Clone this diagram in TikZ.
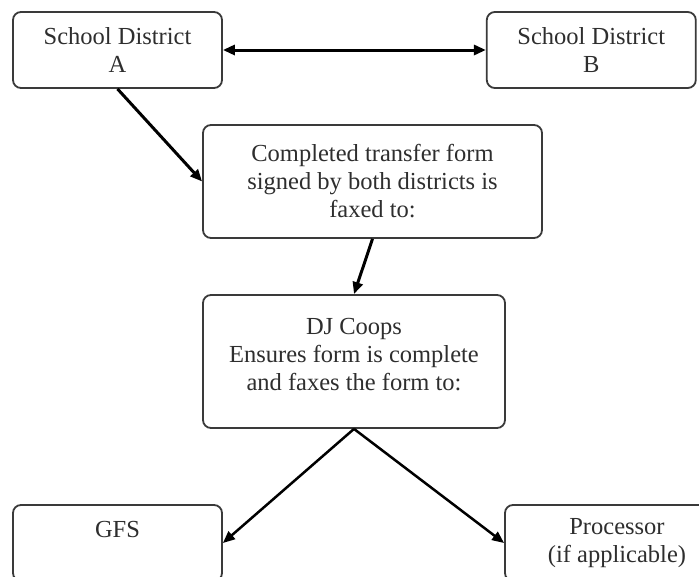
\documentclass[tikz,border=0pt]{standalone}
\usepackage{fontspec}
\setmainfont{Liberation Serif}
\usetikzlibrary{arrows.meta, positioning}

\definecolor{boxgray}{HTML}{3A3A3A}
\definecolor{textgray}{HTML}{2E2E2E}

\begin{document}
\begin{tikzpicture}[x=1pt,y=-1pt,>={Triangle[length=12pt,width=10pt]},
		box/.style={draw=boxgray, line width=1.8pt, rounded corners=8pt, align=center,
			text=textgray, inner sep=0pt, font=\fontsize{24.5}{28}\selectfont},
		link/.style={->, line width=3pt}]
		\path[use as bounding box, clip] (0,0) rectangle (699,576);

		%% Nodes
		% Districts
		\begin{scope}
			\node (distA) at (117.5,50) [box, minimum width=209pt, minimum height=76pt] {School District\\A};
			\node (distB) [box, right = 263pt of distA, minimum width=209pt, minimum height=76pt] {School District\\B};
		\end{scope}

		% Transfer and coops
		\begin{scope}
			\node (transfer) at (372.5,181.5) [box, minimum width=339pt, minimum height=113pt] {Completed transfer form\\signed by both districts is\\faxed to:};
			\node (coops) at (354,361.5) [box, minimum width=302pt, minimum height=133pt] {DJ Coops\\Ensures form is complete\\and faxes the form to:\\[-14pt]};
		\end{scope}

		% Outputs
		\begin{scope}
			\node (gfs) at (117.5,543) [box, minimum width=209pt, minimum height=76pt] {GFS\\\phantom{A}};
			\node (processor) at (617,543) [box, minimum width=224pt, minimum height=76pt] {Processor\\(if applicable)};
		\end{scope}

		%% Edges
		\draw[link, <->] (distA) -- (distB);
		\draw[link] (distA.south) -- (transfer.west);
		\draw[link] (transfer.south) -- (coops.north);
		\draw[link, line width=2.5pt] (coops.south) -- (gfs.east);
		\draw[link, line width=2.5pt] (coops.south) -- (processor.west);
	\end{tikzpicture}
\end{document}
